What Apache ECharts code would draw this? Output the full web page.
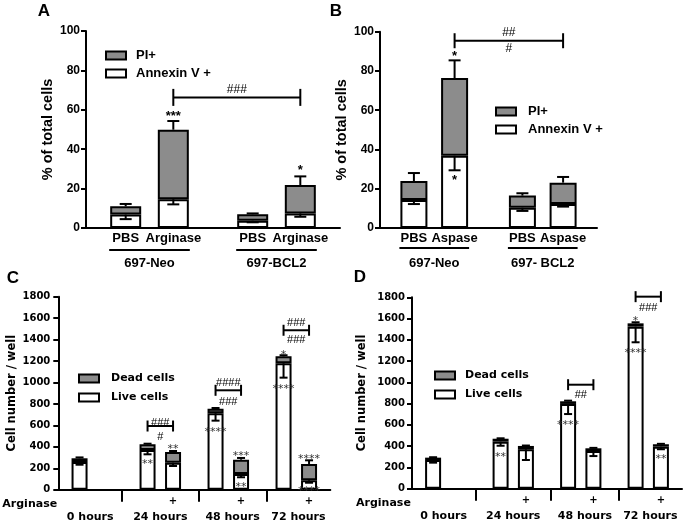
<!DOCTYPE html>
<html><head><meta charset="utf-8">
<script src="https://cdn.jsdelivr.net/npm/echarts@6.0.0/dist/echarts.min.js"></script>
<style>html,body{margin:0;padding:0;background:#fff;}#chart{width:685px;height:522px;}</style>
</head><body><div id="chart"></div>
<script>
// ---------------- data ----------------
const groupsA = ['697-Neo', '697-BCL2'];
const treatmentsA = ['PBS', 'Arginase', 'PBS', 'Arginase'];
const annexinA = [6.8, 14.6, 3.7, 7.4];
const piA = [4.2, 35.3, 3.3, 14.4];
const errTotalA = [1.2, 4.4, 0.4, 4.4];
const errAnnexinA = [2.3, 2.6, 0.8, 1.7];

const groupsB = ['697-Neo', '697- BCL2'];
const treatmentsB = ['PBS', 'Aspase', 'PBS', 'Aspase'];
const annexinB = [14.3, 36.8, 10.3, 12.2];
const piB = [9.6, 39.6, 6.2, 10.9];
const errTotalB = [4.1, 9.0, 1.2, 2.9];
const errAnnexinB = [2.1, 7.4, 1.6, 1.3];

const timeLabels = ['0 hours', '24 hours', '48 hours', '72 hours'];
const arginaseMarks = ['', '', '+', '', '+', '', '+'];
const liveC = [258, 370, 252, 713, 146, 1179, 88];
const deadC = [35, 53, 100, 43, 134, 65, 152];
const errTotalC = [8, 6, 9, 6, 16, 10, 34];
const errLiveC = [25, 40, 31, 69, 30, 134, 23];
const liveD = [270, 442, 370, 797, 354, 1524, 395];
const deadD = [22, 28, 32, 25, 26, 31, 23];
const errTotalD = [4, 4, 4, 6, 4, 10, 4];
const errLiveD = [25, 38, 100, 95, 47, 147, 24];

// significance marks (bars = indices into the arrays above)
const notesA = [
  {bars: [1], y: 56.7, text: '***', kind: 'star'},
  {bars: [3], y: 29.1, text: '*', kind: 'star'},
  {bars: [1, 3], y: 70, text: '###', kind: 'hash'}
];
const bracketsA = [{bars: [1, 3], y: 66.3}];
const notesB = [
  {bars: [1], y: 87.3, text: '*', kind: 'star'},
  {bars: [1], y: 24.1, text: '*', kind: 'star'},
  {bars: [1, 3], y: 99.3, text: '##', kind: 'hash'},
  {bars: [1, 3], y: 91.2, text: '#', kind: 'hash'}
];
const bracketsB = [{bars: [1, 3], y: 95.4}];
const notesC = [
  {bars: [1], y: 237, text: '**', kind: 'star'},
  {bars: [2], y: 377, text: '**', kind: 'star'},
  {bars: [1, 2], y: 625, text: '###', kind: 'hash'},
  {bars: [1, 2], y: 489, text: '#', kind: 'hash'},
  {bars: [3], y: 538, text: '****', kind: 'star'},
  {bars: [3, 4], y: 993, text: '####', kind: 'hash'},
  {bars: [3, 4], y: 821, text: '###', kind: 'hash'},
  {bars: [4], y: 314, text: '***', kind: 'star'},
  {bars: [4], y: 28, text: '**', kind: 'star'},
  {bars: [5], y: 1259, text: '*', kind: 'star'},
  {bars: [5], y: 942, text: '****', kind: 'star'},
  {bars: [5, 6], y: 1552, text: '###', kind: 'hash'},
  {bars: [5, 6], y: 1396, text: '###', kind: 'hash'},
  {bars: [6], y: 284, text: '****', kind: 'star'},
  {bars: [6], y: -9, text: '****', kind: 'star'}
];
const bracketsC = [{bars: [1, 2], y: 594}, {bars: [3, 4], y: 927}, {bars: [5, 6], y: 1487}];
const notesD = [
  {bars: [1], y: 298, text: '**', kind: 'star'},
  {bars: [3, 4], y: 884, text: '##', kind: 'hash'},
  {bars: [3], y: 602, text: '****', kind: 'star'},
  {bars: [5, 6], y: 1697, text: '###', kind: 'hash'},
  {bars: [5], y: 1574, text: '*', kind: 'star'},
  {bars: [5], y: 1276, text: '****', kind: 'star'},
  {bars: [6], y: 277, text: '**', kind: 'star'}
];
const bracketsD = [{bars: [3, 4], y: 978}, {bars: [5, 6], y: 1806}];

// ---------------- layout & style ----------------
const FAB = '"Liberation Sans", Arial, sans-serif';
const FCD = '"DejaVu Sans", sans-serif';
const BLACK = '#000', GREY = '#8c8c8c';
const SLOTS_AB = [2, 5, 10, 13];
const SLOTS_CD = [2, 10, 13, 18, 21, 26, 29];
const panels = [
  {grid: {left: 86, right: 345, top: 31, bottom: 294}, n: 16, slots: SLOTS_AB, barWidth: 31, cap: 6, tick: 8.5,
   fonts: {star: 'bold 13px ' + FAB, hash: '12px ' + FAB}},
  {grid: {left: 380, right: 88, top: 31.7, bottom: 294}, n: 16, slots: SLOTS_AB, barWidth: 27, cap: 6, tick: 7.5,
   fonts: {star: 'bold 13px ' + FAB, hash: '12px ' + FAB}},
  {grid: {left: 58.3, right: 354.7, top: 296.7, bottom: 32.3}, n: 32, slots: SLOTS_CD, seps: [7, 16, 24], barWidth: 16, cap: 4, tick: 5.5,
   fonts: {star: '11px ' + FCD, hash: '11px ' + FAB}},
  {grid: {left: 412, right: 3, top: 297.3, bottom: 33.3}, n: 32, slots: SLOTS_CD, seps: [7, 16, 24], barWidth: 16, cap: 4, tick: 5.5,
   fonts: {star: '11px ' + FCD, hash: '11px ' + FAB}}
];

function spread(vals, slots, n, fill) {
  const a = new Array(n).fill(fill);
  slots.forEach((s, i) => { a[s] = vals[i]; });
  return a;
}

function barSeries(gi, name, vals, color) {
  const p = panels[gi];
  return {
    type: 'bar', name, xAxisIndex: gi, yAxisIndex: gi, stack: 'stk' + gi,
    barWidth: p.barWidth, data: spread(vals, p.slots, p.n, '-'),
    itemStyle: {color, borderColor: BLACK, borderWidth: 2}, silent: true, animation: false
  };
}

function errorSeries(gi, lower, upper, errUp, errDown) {
  const p = panels[gi];
  const items = [];
  lower.forEach((v, i) => {
    const total = v + upper[i];
    items.push([p.slots[i], total, total + errUp[i]]);
    items.push([p.slots[i], v, v - errDown[i]]);
  });
  return {
    type: 'custom', xAxisIndex: gi, yAxisIndex: gi, clip: false, silent: true, z: 3, animation: false,
    data: items, encode: {x: 0, y: [1, 2]},
    renderItem(params, api) {
      const x = api.value(0);
      const a = api.coord([x, api.value(1)]);
      const b = api.coord([x, api.value(2)]);
      const st = {stroke: BLACK, lineWidth: 2};
      return {type: 'group', children: [
        {type: 'line', shape: {x1: a[0], y1: a[1], x2: b[0], y2: b[1]}, style: st},
        {type: 'line', shape: {x1: b[0] - p.cap, y1: b[1], x2: b[0] + p.cap, y2: b[1]}, style: st}
      ]};
    }
  };
}

function noteSeries(gi, notes, brackets) {
  const p = panels[gi];
  const data = notes.map(n => [p.slots[n.bars[0]], n.y]).concat(brackets.map(b => [p.slots[b.bars[0]], b.y]));
  return {
    type: 'custom', xAxisIndex: gi, yAxisIndex: gi, clip: false, silent: true, z: 4, animation: false,
    data, encode: {x: 0, y: 1},
    renderItem(params, api) {
      const i = params.dataIndex;
      if (i < notes.length) {
        const n = notes[i];
        const p1 = api.coord([p.slots[n.bars[0]], n.y]);
        const p2 = api.coord([p.slots[n.bars[n.bars.length - 1]], n.y]);
        return {type: 'text', x: (p1[0] + p2[0]) / 2, y: p1[1],
          style: {text: n.text, font: p.fonts[n.kind], fill: n.kind === 'star' && gi > 1 ? '#333' : BLACK,
                  textAlign: 'center', textVerticalAlign: 'middle'}};
      }
      const b = brackets[i - notes.length];
      const p1 = api.coord([p.slots[b.bars[0]], b.y]);
      const p2 = api.coord([p.slots[b.bars[1]], b.y]);
      const st = {stroke: BLACK, lineWidth: 2};
      return {type: 'group', children: [
        {type: 'line', shape: {x1: p1[0], y1: p1[1], x2: p2[0], y2: p2[1]}, style: st},
        {type: 'line', shape: {x1: p1[0], y1: p1[1] - p.tick, x2: p1[0], y2: p1[1] + p.tick}, style: st},
        {type: 'line', shape: {x1: p2[0], y1: p2[1] - p.tick, x2: p2[0], y2: p2[1] + p.tick}, style: st}
      ]};
    }
  };
}

function xAxisAB(gi, labels) {
  const p = panels[gi];
  return {type: 'category', gridIndex: gi, data: spread(labels, p.slots, p.n, ''), boundaryGap: true,
    axisLine: {show: true, onZero: false, lineStyle: {color: BLACK, width: 2}}, axisTick: {show: false},
    axisLabel: {interval: 0, margin: 4, color: BLACK, fontFamily: FAB, fontWeight: 'bold', fontSize: 13},
    splitLine: {show: false}};
}
function xAxisCD(gi) {
  const p = panels[gi];
  return {type: 'category', gridIndex: gi, data: spread(arginaseMarks, p.slots, p.n, ''), boundaryGap: true,
    axisLine: {show: true, onZero: false, lineStyle: {color: BLACK, width: 2}},
    axisTick: {show: true, alignWithLabel: true, interval: (idx) => p.seps.indexOf(idx) >= 0, length: 12,
               lineStyle: {color: BLACK, width: 2}},
    axisLabel: {interval: 0, margin: 7, color: BLACK, fontFamily: FCD, fontWeight: 'bold', fontSize: 10},
    splitLine: {show: false}};
}
function yAxis(gi, max, interval, name, font, fs, nameFs, margin, nameGap) {
  return {type: 'value', gridIndex: gi, min: 0, max, interval,
    axisLine: {show: true, lineStyle: {color: BLACK, width: 2}},
    axisTick: {show: true, length: 5, lineStyle: {color: BLACK, width: 2}},
    splitLine: {show: false},
    axisLabel: {margin, color: BLACK, fontFamily: font, fontWeight: 'bold', fontSize: fs,
                formatter: (v) => String(v)},
    name, nameLocation: 'middle', nameGap,
    nameTextStyle: {color: BLACK, fontFamily: font, fontWeight: 'bold', fontSize: nameFs}};
}
function legend(names, left, top, gap, fs, font, pad) {
  return {data: names, orient: 'vertical', left, top, itemWidth: 20, itemHeight: 8, itemGap: gap,
    icon: 'rect', selectedMode: false, itemStyle: {borderColor: BLACK, borderWidth: 2},
    textStyle: {color: BLACK, fontFamily: font, fontWeight: 'bold', fontSize: fs, padding: [0, 0, 0, pad]}};
}

const chart = echarts.init(document.getElementById('chart'), null, {renderer: 'canvas'});
const option = {
  animation: false,
  backgroundColor: '#fff',
  grid: panels.map(p => Object.assign({containLabel: false, outerBoundsMode: 'none'}, p.grid)),
  xAxis: [xAxisAB(0, treatmentsA), xAxisAB(1, treatmentsB), xAxisCD(2), xAxisCD(3)],
  yAxis: [
    yAxis(0, 100, 20, '% of total cells', FAB, 12, 14.5, 6, 31),
    yAxis(1, 100, 20, '% of total cells', FAB, 12, 14.5, 6, 31),
    yAxis(2, 1800, 200, 'Cell number / well', FCD, 10, 11.5, 8, 40),
    yAxis(3, 1800, 200, 'Cell number / well', FCD, 10, 11.5, 7, 44)
  ],
  legend: [
    legend(['PI+', 'Annexin V +'], 100, 44, 5, 13, FAB, 5),
    legend(['PI+', 'Annexin V +'], 490, 100, 5, 13, FAB, 7),
    legend(['Dead cells', 'Live cells'], 73, 368, 8, 11, FCD, 7),
    legend(['Dead cells', 'Live cells'], 429, 365, 8, 11, FCD, 5)
  ],
  series: [
    barSeries(0, 'Annexin V +', annexinA, '#fff'), barSeries(0, 'PI+', piA, GREY),
    errorSeries(0, annexinA, piA, errTotalA, errAnnexinA), noteSeries(0, notesA, bracketsA),
    barSeries(1, 'Annexin V +', annexinB, '#fff'), barSeries(1, 'PI+', piB, GREY),
    errorSeries(1, annexinB, piB, errTotalB, errAnnexinB), noteSeries(1, notesB, bracketsB),
    barSeries(2, 'Live cells', liveC, '#fff'), barSeries(2, 'Dead cells', deadC, GREY),
    errorSeries(2, liveC, deadC, errTotalC, errLiveC), noteSeries(2, notesC, bracketsC),
    barSeries(3, 'Live cells', liveD, '#fff'), barSeries(3, 'Dead cells', deadD, GREY),
    errorSeries(3, liveD, deadD, errTotalD, errLiveD), noteSeries(3, notesD, bracketsD)
  ]
};
chart.setOption(option);

// ---------- extra texts: panel letters, group labels, time labels ----------
const gfx = [];
function txt(x, y, t, font, align) {
  gfx.push({type: 'text', x, y, silent: true,
    style: {text: t, font, fill: BLACK, textAlign: align || 'center', textVerticalAlign: 'middle'}});
}
function ln(x1, y1, x2, y2) {
  gfx.push({type: 'line', silent: true, shape: {x1, y1, x2, y2}, style: {stroke: BLACK, lineWidth: 2}});
}
const pix = (gi, s, v) => chart.convertToPixel({gridIndex: gi}, [s, v]);

txt(44, 11, 'A', 'bold 17px ' + FAB);
txt(336, 11, 'B', 'bold 17px ' + FAB);
txt(13, 278, 'C', 'bold 17px ' + FAB);
txt(360, 277, 'D', 'bold 17px ' + FAB);

[[0, groupsA, 22], [1, groupsB, 20]].forEach(([gi, groups, off]) => {
  const p = panels[gi];
  groups.forEach((g, k) => {
    const a = pix(gi, p.slots[2 * k], 0), b = pix(gi, p.slots[2 * k + 1], 0);
    const l = a[0] - p.barWidth / 2 - 1, r = b[0] + p.barWidth / 2 + 1;
    ln(l, a[1] + off, r, a[1] + off);
    txt((l + r) / 2, a[1] + 35, g, 'bold 13px ' + FAB);
  });
});

[2, 3].forEach(gi => {
  const p = panels[gi];
  const z0 = pix(gi, 0, 0), z1 = pix(gi, 1, 0), zn = pix(gi, p.n - 1, 0);
  const band = z1[0] - z0[0];
  const bounds = [z0[0] - band / 2].concat(p.seps.map(s => pix(gi, s, 0)[0]), [zn[0] + band / 2]);
  timeLabels.forEach((t, k) => txt((bounds[k] + bounds[k + 1]) / 2, z0[1] + 27, t, 'bold 11px ' + FCD));
  txt(p.grid.left - 56, z0[1] + 14.5, 'Arginase', 'bold 11px ' + FCD, 'left');
});

chart.setOption({graphic: {elements: gfx}});
</script>
</body></html>
